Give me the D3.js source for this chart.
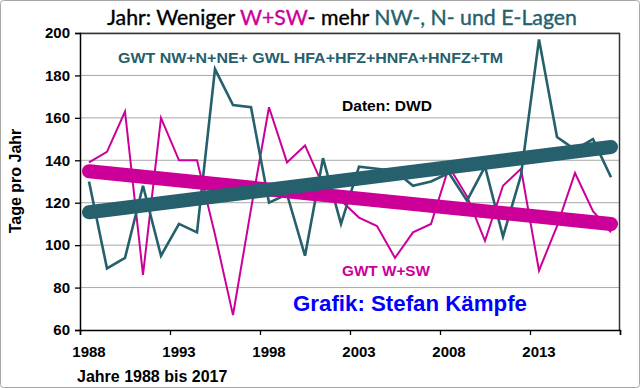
<!DOCTYPE html>
<html>
<head>
<meta charset="utf-8">
<script src="https://cdn.jsdelivr.net/npm/d3@7"></script>
<style>
  body { margin: 0; background: #fff; }
  svg { display: block; }
</style>
</head>
<body>
<svg id="chart" width="640" height="388"></svg>
<script>
var years = d3.range(1988, 2018);
var tickYears = [1988, 1993, 1998, 2003, 2008, 2013];
var yTicks = [60, 80, 100, 120, 140, 160, 180, 200];

// GWT NW+N+NE + GWL HFA+HFZ+HNFA+HNFZ+TM
var northDays = [130, 89, 94, 128, 95, 110, 106, 183, 166, 165,
                 120, 124, 95, 141, 110, 137, 136, 135, 128, 130,
                 134, 121, 137, 104, 133, 197, 151, 145, 150, 132];
// GWT W+SW
var westDays = [139, 144, 163, 86, 160, 140, 140, 105, 67, 117,
                165, 139, 147, 128, 121, 113, 109, 94, 106, 110,
                137, 123, 102, 128, 136, 88, 109, 134, 116, 106];

var teal = "#25606c";
var magenta = "#cc0099";

var svg = d3.select("#chart");
var margin = {top: 33, right: 20, bottom: 58, left: 80};
var width = +svg.attr("width") - margin.left - margin.right;
var height = +svg.attr("height") - margin.top - margin.bottom;

svg.append("rect")
    .attr("x", 0.5).attr("y", 0.5)
    .attr("width", 639).attr("height", 387)
    .attr("rx", 3)
    .attr("fill", "#fff")
    .attr("stroke", "#a6a6a6");

var g = svg.append("g").attr("transform", "translate(" + margin.left + "," + margin.top + ")");

var x = d3.scaleLinear().domain([1988, 2018]).range([0, width]);
var y = d3.scaleLinear().domain([60, 200]).range([height, 0]);

var fit = function(vals) {
    var n = vals.length;
    var mx = d3.mean(years), my = d3.mean(vals);
    var sxy = 0, sxx = 0;
    vals.forEach(function(v, i) {
        sxy += (years[i] - mx) * (v - my);
        sxx += (years[i] - mx) * (years[i] - mx);
    });
    var b = sxy / sxx;
    return [years[0], years[n - 1]].map(function(yr) {
        return {year: yr, value: my + b * (yr - mx)};
    });
};

// grid
g.append("g")
    .selectAll("line")
    .data(yTicks.slice(1))
    .enter().append("line")
    .attr("x1", 0).attr("x2", width)
    .attr("y1", function(d) { return y(d); })
    .attr("y2", function(d) { return y(d); })
    .attr("stroke", "#a8a8a8")
    .attr("stroke-width", 1);

// plot border top/right
g.append("path")
    .attr("d", "M0,0.5H" + (width - 0.5) + "V" + height)
    .attr("fill", "none")
    .attr("stroke", "#333")
    .attr("stroke-width", 1.5);

// y axis
var yAxis = g.append("g")
    .call(d3.axisLeft(y).tickValues(yTicks).tickSize(5).tickPadding(5));
yAxis.select(".domain").attr("stroke", "#000").attr("stroke-width", 1.5);
yAxis.selectAll(".tick line").attr("stroke", "#000").attr("stroke-width", 1.3);
yAxis.selectAll("text")
    .attr("font-family", "Liberation Sans, Arial, sans-serif")
    .attr("font-weight", "bold")
    .attr("font-size", 15)
    .attr("fill", "#000");

// x axis, ticks on year boundaries, labels centred
var xAxis = g.append("g")
    .attr("transform", "translate(0," + height + ")")
    .call(d3.axisBottom(x).tickValues(tickYears.concat([2018])).tickSize(5).tickFormat(""));
xAxis.select(".domain").attr("stroke", "#000").attr("stroke-width", 1.5);
xAxis.selectAll(".tick line").attr("stroke", "#000").attr("stroke-width", 1.3);

xAxis.selectAll(".yearlabel")
    .data(tickYears)
    .enter().append("text")
    .attr("class", "yearlabel")
    .attr("x", function(d) { return x(d + 0.5); })
    .attr("y", 27)
    .attr("text-anchor", "middle")
    .attr("font-family", "Liberation Sans, Arial, sans-serif")
    .attr("font-weight", "bold")
    .attr("font-size", 15)
    .attr("fill", "#000")
    .text(function(d) { return d; });

var line = d3.line()
    .x(function(d, i) { return x(years[i] + 0.5); })
    .y(function(d) { return y(d); });

var trendLine = d3.line()
    .x(function(d) { return x(d.year + 0.5); })
    .y(function(d) { return y(d.value); });

g.append("path")
    .datum(westDays)
    .attr("fill", "none")
    .attr("stroke", magenta)
    .attr("stroke-width", 2)
    .attr("d", line);

g.append("path")
    .datum(northDays)
    .attr("fill", "none")
    .attr("stroke", teal)
    .attr("stroke-width", 2.6)
    .attr("d", line);

g.append("path")
    .datum(fit(westDays))
    .attr("fill", "none")
    .attr("stroke", magenta)
    .attr("stroke-width", 14)
    .attr("stroke-linecap", "round")
    .attr("d", trendLine);

g.append("path")
    .datum(fit(northDays))
    .attr("fill", "none")
    .attr("stroke", teal)
    .attr("stroke-width", 14)
    .attr("stroke-linecap", "round")
    .attr("d", trendLine);

// texts
var bold = function(sel) {
    return sel.attr("font-family", "Liberation Sans, Arial, sans-serif").attr("font-weight", "bold");
};

var title = svg.append("text")
    .attr("x", 342).attr("y", 25)
    .attr("text-anchor", "middle")
    .attr("font-family", "Lato, sans-serif")
    .attr("font-size", 20.5)
    .attr("stroke-width", 0.35)
    .attr("textLength", 470)
    .attr("lengthAdjust", "spacingAndGlyphs");
title.append("tspan").attr("fill", "#000").attr("stroke", "#000").text("Jahr: Weniger ");
title.append("tspan").attr("fill", magenta).attr("stroke", magenta).text("W+SW");
title.append("tspan").attr("fill", "#000").attr("stroke", "#000").text("- mehr ");
title.append("tspan").attr("fill", teal).attr("stroke", teal).text("NW-, N- und E-Lagen");

bold(svg.append("text"))
    .attr("x", 118).attr("y", 63)
    .attr("font-size", 15)
    .attr("fill", teal)
    .attr("textLength", 385)
    .attr("lengthAdjust", "spacingAndGlyphs")
    .text("GWT NW+N+NE+ GWL HFA+HFZ+HNFA+HNFZ+TM");

bold(svg.append("text"))
    .attr("x", 342).attr("y", 111)
    .attr("font-size", 15)
    .attr("fill", "#000")
    .attr("textLength", 90)
    .attr("lengthAdjust", "spacingAndGlyphs")
    .text("Daten: DWD");

bold(svg.append("text"))
    .attr("x", 342).attr("y", 276)
    .attr("font-size", 15)
    .attr("fill", magenta)
    .attr("textLength", 88)
    .attr("lengthAdjust", "spacingAndGlyphs")
    .text("GWT W+SW");

bold(svg.append("text"))
    .attr("x", 293).attr("y", 311)
    .attr("font-size", 22)
    .attr("fill", "#0000ff")
    .attr("textLength", 234)
    .attr("lengthAdjust", "spacingAndGlyphs")
    .text("Grafik: Stefan Kämpfe");

bold(svg.append("text"))
    .attr("transform", "translate(21,181) rotate(-90)")
    .attr("text-anchor", "middle")
    .attr("font-size", 16)
    .attr("fill", "#000")
    .text("Tage pro Jahr");

bold(svg.append("text"))
    .attr("x", 77).attr("y", 382)
    .attr("font-size", 16)
    .attr("fill", "#000")
    .text("Jahre 1988 bis 2017");
</script>
</body>
</html>
